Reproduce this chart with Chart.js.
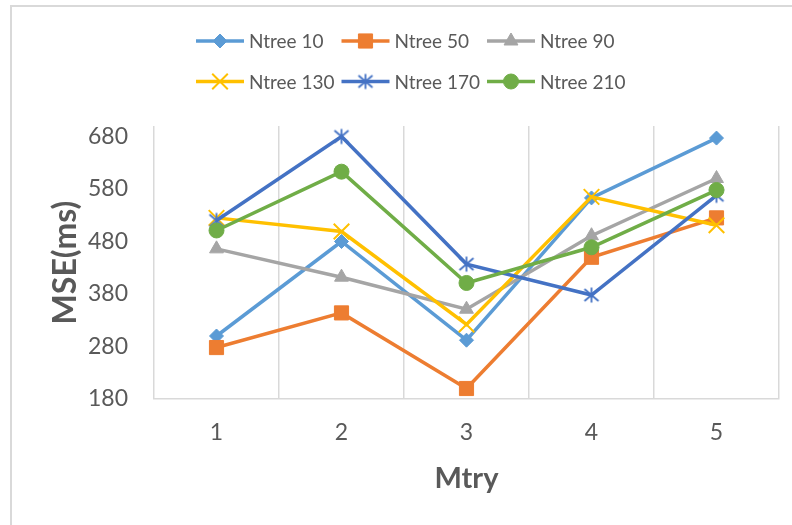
<!DOCTYPE html>
<html>
<head>
<meta charset="utf-8">
<script src="https://cdn.jsdelivr.net/npm/chart.js@4/dist/chart.umd.min.js"></script>
<style>
  html, body { margin: 0; padding: 0; background: #fff; }
  #wrap { position: relative; width: 792px; height: 525px; }
</style>
</head>
<body>
<div id="wrap"><canvas id="c" width="792" height="525"></canvas></div>
<script>
// ---- data ----
const categories = ['1', '2', '3', '4', '5'];
const seriesNames = ['Ntree 10', 'Ntree 50', 'Ntree 90', 'Ntree 130', 'Ntree 170', 'Ntree 210'];
const ntree10  = [300, 480, 292, 563, 677];
const ntree50  = [278, 344, 200, 450, 525];
const ntree90  = [466, 412, 351, 491, 600];
const ntree130 = [525, 499, 322, 565, 511];
const ntree170 = [520, 680, 437, 378, 568];
const ntree210 = [501, 613, 401, 469, 578];
const yTicks = [180, 280, 380, 480, 580, 680];
const yMin = 180, yMax = 700;

// ---- styles ----
const FONT = 'Lato, "Open Sans", sans-serif';
const TEXT = '#595959';
const GRID = '#d9d9d9';

function asterisk(color) {
  const c = document.createElement('canvas');
  c.width = 20; c.height = 20;
  const g = c.getContext('2d');
  g.strokeStyle = color; g.lineWidth = 1.8; g.lineCap = 'butt';
  g.beginPath();
  g.moveTo(3, 4); g.lineTo(17, 16);
  g.moveTo(17, 4); g.lineTo(3, 16);
  g.moveTo(10, 2.5); g.lineTo(10, 17.5);
  g.stroke();
  return c;
}

const seriesData = [ntree10, ntree50, ntree90, ntree130, ntree170, ntree210];
const styles = [
  { color: '#5B9BD5', pointStyle: 'rectRot', radius: 7, bw: 1 },
  { color: '#ED7D31', pointStyle: 'rect', radius: 10, bw: 1 },
  { color: '#A5A5A5', pointStyle: 'triangle', radius: 8, bw: 1 },
  { color: '#FFC000', pointStyle: 'crossRot', radius: 11, bw: 2 },
  { color: '#4472C4', pointStyle: asterisk('#4472C4'), radius: 10, bw: 1 },
  { color: '#70AD47', pointStyle: 'circle', radius: 7.5, bw: 1 }
];

const datasets = seriesData.map((d, i) => ({
  label: seriesNames[i],
  data: d,
  borderColor: styles[i].color,
  backgroundColor: styles[i].color,
  borderWidth: 3.5,
  pointStyle: styles[i].pointStyle,
  pointRadius: styles[i].radius,
  pointHoverRadius: styles[i].radius,
  pointBorderWidth: styles[i].bw,
  pointBorderColor: styles[i].color,
  pointBackgroundColor: styles[i].color,
  tension: 0,
  order: seriesData.length - 1 - i
}));

const frame = {
  id: 'frame',
  beforeDraw(chart) {
    const ctx = chart.ctx;
    ctx.save();
    ctx.fillStyle = '#fff';
    ctx.fillRect(0, 0, chart.width, chart.height);
    ctx.strokeStyle = GRID;
    ctx.lineWidth = 2;
    ctx.beginPath();
    ctx.moveTo(11, chart.height);
    ctx.lineTo(11, 6);
    ctx.lineTo(chart.width, 6);
    ctx.stroke();
    ctx.restore();
  }
};

const legendPlugin = {
  id: 'customLegend',
  afterDraw(chart) {
    const ctx = chart.ctx;
    ctx.save();
    chart.data.datasets.forEach((ds, i) => {
      const col = i % 3, row = Math.floor(i / 3);
      const x0 = 196 + col * 145.5, x1 = x0 + 48;
      const y = 41 + row * 40.5;
      ctx.strokeStyle = ds.borderColor;
      ctx.lineWidth = 3.5;
      ctx.beginPath(); ctx.moveTo(x0, y); ctx.lineTo(x1, y); ctx.stroke();
      ctx.fillStyle = ds.pointBackgroundColor;
      ctx.strokeStyle = ds.pointBorderColor;
      ctx.lineWidth = ds.pointBorderWidth;
      Chart.helpers.drawPoint(ctx, { pointStyle: ds.pointStyle, radius: ds.pointRadius, rotation: 0, borderWidth: ds.pointBorderWidth }, (x0 + x1) / 2, y);
      ctx.fillStyle = TEXT;
      ctx.font = '19px ' + FONT;
      ctx.textAlign = 'left';
      ctx.textBaseline = 'middle';
      ctx.fillText(ds.label, x1 + 5, y + 1);
    });
    ctx.restore();
  }
};

new Chart(document.getElementById('c'), {
  type: 'line',
  data: { labels: categories, datasets },
  plugins: [frame, legendPlugin],
  options: {
    responsive: false,
    animation: false,
    devicePixelRatio: 1,
    layout: { padding: { top: 126, right: 13, left: 0, bottom: 0 } },
    plugins: { legend: { display: false }, tooltip: { enabled: false } },
    scales: {
      x: {
        type: 'category',
        offset: true,
        grid: { display: true, offset: true, color: GRID, lineWidth: 1.5, drawTicks: false },
        border: { display: true, color: GRID, width: 1.5 },
        ticks: { color: TEXT, font: { family: FONT, size: 23 }, padding: 20, maxRotation: 0 },
        title: { display: true, text: 'Mtry', color: TEXT, font: { family: FONT, size: 29, weight: 'bold' }, padding: { top: 0, bottom: 29 } },
        afterFit(scale) { scale.height = 126; }
      },
      y: {
        min: yMin, max: yMax,
        grid: { display: false, drawTicks: false },
        border: { display: false },
        afterBuildTicks(scale) { scale.ticks = yTicks.map(v => ({ value: v })); },
        ticks: { color: TEXT, font: { family: FONT, size: 23 }, padding: 26 },
        title: { display: true, text: 'MSE(ms)', color: TEXT, font: { family: FONT, size: 32, weight: 'bold' }, padding: { top: 46, bottom: 0 } },
        afterFit(scale) { scale.width = 154; }
      }
    }
  }
});
</script>
</body>
</html>
